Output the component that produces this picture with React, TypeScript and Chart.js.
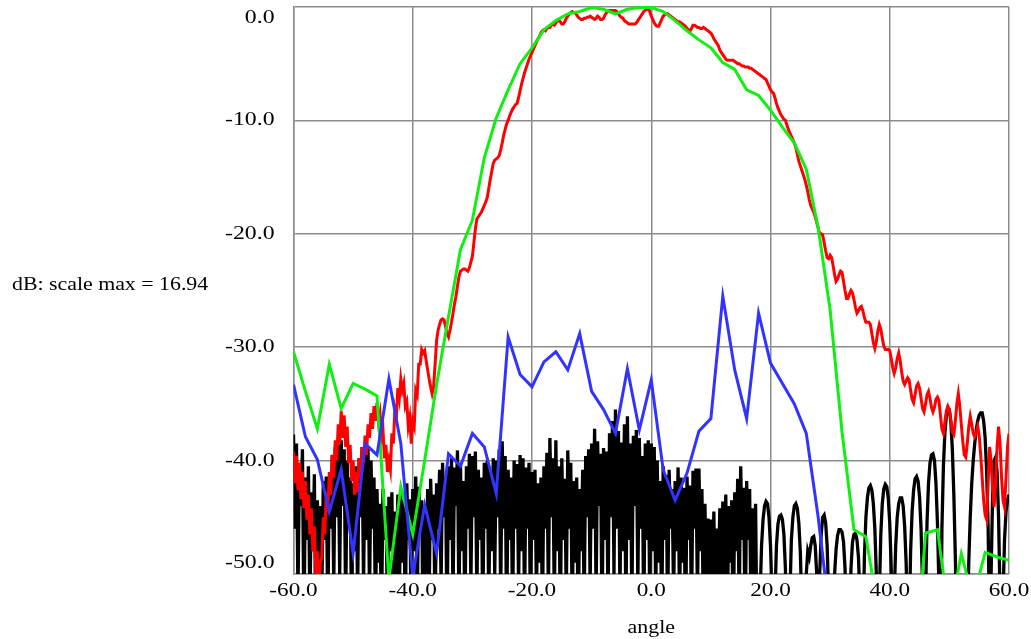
import React, { useEffect, useRef } from "react";
import { Chart, registerables } from "chart.js";

Chart.register(...registerables);

// ---------- data ----------
const xTickValues = [-60, -40, -20, 0, 20, 40, 60];
const yTickValues = [0, -10, -20, -30, -40, -50];
const yAxisLabel = "dB: scale max = 16.94";
const xAxisLabel = "angle";

// red: measured pattern, 0.25 deg spacing from -60 to 60
const redStart = -60;
const redStep = 0.25;
const redValues = [
  -39.2, -42.0, -39.6, -42.6, -40.2, -43.4, -41.0, -44.2,
  -41.8, -45.2, -43.0, -46.5, -44.2, -48.0, -45.8, -50.0,
  -48.0, -52.0, -49.0, -48.5, -45.0, -46.5, -42.8, -44.5,
  -41.0, -43.0, -39.5, -41.5, -38.2, -40.0, -36.8, -38.5,
  -35.6, -38.0, -36.0, -38.8, -37.0, -40.2, -38.6, -41.8,
  -40.0, -43.0, -41.0, -42.8, -39.8, -41.5, -38.8, -40.2,
  -37.8, -39.5, -36.8, -38.0, -35.8, -37.2, -35.2, -36.5,
  -34.9, -36.5, -35.8, -38.0, -37.2, -39.8, -38.6, -41.0,
  -40.0, -40.8, -37.6, -38.5, -35.5, -36.2, -33.6, -34.5,
  -32.8, -33.8, -33.2, -35.2, -34.8, -37.0, -36.2, -38.5,
  -36.5, -37.0, -33.8, -34.2, -31.5, -31.5, -30.2, -30.5,
  -30.3, -31.2, -32, -32.8, -33.5, -34.1, -33.5, -31.5,
  -29.4, -28.5, -28, -27.6, -27.5, -27.6, -28.2, -28.8,
  -29.1, -28.5, -27.8, -27, -26.2, -25.5, -24.6, -23.8,
  -23.3, -23.2, -23.1, -23.1, -23.2, -23.3, -23, -22.5,
  -22, -20.8, -19.6, -18.7, -18.5, -18.3, -18.1, -17.8,
  -17.5, -17.2, -16.8, -16, -15.2, -14.5, -13.8, -13.5,
  -13.4, -13.3, -13.1, -12.6, -12, -11.3, -10.8, -10.3,
  -10, -9.6, -9.3, -9.0, -8.8, -8.6, -8.5, -8.0,
  -7.4, -6.8, -6.3, -5.8, -5.4, -5.0, -4.6, -4.3,
  -4.0, -3.7, -3.4, -3.1, -2.8, -2.6, -2.3, -2.1,
  -2.0, -2.1, -1.9, -1.8, -1.8, -1.6, -1.5, -1.6,
  -1.4, -1.2, -1.2, -1.3, -1.5, -1.5, -1.3, -1.0,
  -0.8, -0.6, -0.5, -0.4, -0.5, -0.5, -0.7, -0.9,
  -1.0, -1.1, -1.1, -1.0, -1.0, -0.9, -0.9, -0.8,
  -0.9, -1.0, -1.1, -1.0, -0.8, -0.9, -1.1, -1.1,
  -1.0, -0.7, -0.5, -0.4, -0.3, -0.3, -0.3, -0.3,
  -0.3, -0.4, -0.6, -0.8, -0.9, -1.0, -1.2, -1.3,
  -1.4, -1.5, -1.5, -1.5, -1.5, -1.5, -1.4, -1.2,
  -1.0, -0.8, -0.6, -0.4, -0.3, -0.2, -0.1, -0.4,
  -0.8, -1.1, -1.4, -1.6, -1.7, -1.7, -1.4, -1.1,
  -0.8, -0.7, -0.6, -0.6, -0.7, -0.8, -0.9, -1.0,
  -1.1, -1.2, -1.3, -1.3, -1.4, -1.5, -1.6, -1.7,
  -1.9, -2.0, -2.1, -1.9, -1.6, -1.6, -1.7, -1.8,
  -1.8, -1.9, -1.9, -1.8, -1.9, -2.0, -2.1, -2.2,
  -2.3, -2.5, -2.8, -3.0, -3.2, -3.4, -3.8, -4.0,
  -4.2, -4.4, -4.6, -4.7, -4.7, -4.7, -4.7, -4.7,
  -4.8, -4.9, -5.0, -5.0, -5.1, -5.2, -5.2, -5.3,
  -5.3, -5.3, -5.4, -5.4, -5.5, -5.6, -5.7, -5.8,
  -5.9, -6.0, -6.1, -6.2, -6.3, -6.4, -6.7, -7.0,
  -7.3, -7.5, -7.6, -8.0, -8.5, -8.9, -9.2, -9.5,
  -9.7, -9.9, -10.0, -10.4, -10.8, -11.1, -11.4, -11.7,
  -12.0, -12.4, -13.0, -13.6, -14.0, -14.4, -14.8, -15.2,
  -15.7, -16.3, -17.0, -17.5, -17.8, -18.1, -18.5, -19.0,
  -19.5, -20.0, -20.0, -20.1, -20.8, -21.5, -22.1, -22.2,
  -21.9, -22.1, -22.8, -23.6, -24.2, -24.0, -23.6, -23.3,
  -23.4, -24.2, -25.0, -25.7, -25.7, -25.3, -25.0, -25.2,
  -25.8, -26.5, -27.0, -26.8, -26.5, -26.4, -26.8, -27.4,
  -27.8, -27.8, -27.8, -28.0, -28.8, -29.6, -30.1, -29.5,
  -28.6, -28.0, -28.4, -29.2, -29.9, -30.2, -30.2, -30.2,
  -30.3, -31.0, -31.8, -32.3, -31.8, -31.0, -30.5, -31.2,
  -32.2, -33.0, -33.3, -33.0, -32.7, -32.9, -33.8, -34.6,
  -34.9, -34.2, -33.4, -33.2, -33.6, -34.5, -35.4, -35.7,
  -35.0, -34.2, -33.9, -34.5, -35.3, -35.7, -35.3, -34.6,
  -34.4, -34.7, -36.0, -37.2, -37.6, -36.6, -35.6, -35.2,
  -35.5, -36.5, -37.5, -37.7, -36.5, -35.0, -34.1, -35.2,
  -36.8, -38.3, -39.5, -39.7, -38.5, -37.0, -36.1, -36.8,
  -37.6, -37.9, -37.5, -37.0, -37.8, -39.5, -41.5, -43.5,
  -44.8, -45.2, -42.0, -38.8, -40.0, -42.5, -44.1, -42.0,
  -38.8, -37.0, -38.5, -41.5, -43.5, -44.1, -41.5, -38.8,
  -37.6,
];

// black: measured pattern, 0.25 deg spacing from -60 to 60
const blackStart = -60;
const blackStep = 0.25;
const blackValues = [
  -37.7, -46, -38.5, -52, -40.2, -44, -39, -55,
  -41.5, -47, -40.5, -53, -42.8, -48, -41.2, -56,
  -43.5, -49, -44, -52, -41.8, -47, -41.4, -54,
  -41.4, -46, -39.5, -51, -38.8, -45, -38.6, -50,
  -38.2, -44, -39, -53, -40, -46, -41.5, -55,
  -42, -48, -40.5, -52, -39.8, -45, -38.8, -51,
  -39.5, -47, -38.8, -52, -40, -46, -41.5, -54,
  -42.5, -49, -43.8, -55, -42.5, -47, -44, -53,
  -43.2, -48, -42.8, -56, -44.5, -50, -43, -52,
  -42.6, -49, -43.5, -54, -42, -47, -43.4, -55,
  -42.5, -48, -41.4, -53, -42.3, -46, -43.5, -56,
  -44, -50, -42.5, -52, -41.6, -47, -43, -54,
  -42, -46, -40.8, -51, -40.2, -45, -41.5, -55,
  -40.5, -47, -39.8, -52, -40.6, -44, -39.1, -53,
  -40.2, -48, -41.8, -55, -40.5, -46, -39.4, -51,
  -39.6, -45, -39.2, -52, -40.8, -47, -41.5, -54,
  -40.2, -46, -40, -53, -41, -48, -39.8, -50,
  -40, -45, -39, -52, -38.3, -46, -39.6, -55,
  -40.8, -47, -41.5, -54, -40, -46, -40.3, -51,
  -39.5, -48, -39.8, -53, -40.6, -46, -40.2, -55,
  -41, -47, -40.8, -52, -42, -49, -41.5, -54,
  -40.5, -46, -39.3, -52, -38, -45, -39.8, -53,
  -38.2, -48, -40.5, -55, -39.8, -47, -41.6, -52,
  -39.1, -46, -40.2, -54, -41.8, -49, -41.5, -56,
  -42.5, -48, -40.8, -53, -39.6, -45, -39, -51,
  -38.5, -46, -37.2, -52, -38.3, -44, -39.4, -55,
  -38.9, -47, -39.2, -53, -37.6, -45, -36.5, -50,
  -35.5, -46, -37.4, -52, -38.4, -48, -36.8, -54,
  -36.1, -47, -38.5, -53, -37.8, -44, -37.3, -51,
  -38, -46, -39.6, -55, -38.5, -47, -38.2, -53,
  -38.5, -48, -38.8, -52, -40, -49, -41.8, -55,
  -40.5, -47, -41.3, -54, -40.8, -46, -42.5, -52,
  -41.8, -48, -40.6, -53, -41.5, -49, -42.4, -56,
  -41.4, -47, -42.2, -54, -40.9, -46, -40.7, -52,
  -40.7, -48, -42.5, -55, -43.8, -50, -45.1, -57,
  -45.2, -52, -44.5, -56, -46, -51, -44.2, -57,
  -43.6, -50, -43, -55, -44, -49, -43.5, -57,
  -42.8, -48, -41.6, -53, -40.5, -47, -42.4, -56,
  -41.8, -47, -42.5, -55, -44.2, -50, -43.8, -57,
  -58, -52, -47.5, -45.2, -44, -43.6, -43.8, -45,
  -47.5, -52, -60, -52, -47.5, -45.6, -44.9, -44.8,
  -45.2, -46.5, -49.5, -56, -60, -52, -47, -45,
  -44, -43.8, -44.2, -45.5, -48, -53, -60, -55,
  -50, -48, -48.5, -47.5, -46.8, -46.7, -47.5, -50,
  -56, -50, -46.5, -45, -44.8, -45.5, -47.5, -52,
  -60, -60, -55, -50, -47.8, -46.6, -46.1, -46.1,
  -46.3, -47.2, -49.5, -55, -60, -54, -49.5, -47.2,
  -46.5, -46.4, -47, -48.5, -52, -60, -55, -48.5,
  -45, -43.3, -42.4, -42.2, -42.6, -43.8, -46, -50,
  -58, -52, -46.5, -43.8, -42.5, -42.1, -42.3, -43.3,
  -45.5, -49.5, -57, -52, -47.5, -45, -43.8, -43.3,
  -43.3, -44, -45.8, -49, -55, -55, -48, -44.5,
  -42.6, -41.6, -41.4, -41.8, -43.2, -46, -51, -60,
  -52, -45.5, -42, -40.2, -39.5, -39.4, -40, -42,
  -45.5, -51, -60, -46, -40.5, -37.5, -36, -35.4,
  -35.5, -36.6, -39, -43, -48.5, -56, -60, -60,
  -60, -60, -60, -60, -55, -49, -45, -42,
  -40, -38.5, -37.3, -36.5, -36, -35.8, -35.8, -36.5,
  -38, -41, -46, -55, -50, -43, -40, -39.7,
  -41, -45, -52, -60, -52, -47, -44.5, -43.5,
  -43,
];

// green: 2 deg spacing from -60 to 60
const greenStart = -60;
const greenStep = 2;
const greenValues = [
  -30.4, -33.9, -37.2, -31.5, -35.4, -33.2, -33.7, -34.3, -50.5, -42.3,
  -46.5, -40.0, -33.3, -27.3, -21.4, -18.8, -13.3, -9.8, -7.3, -5.0,
  -3.6, -2.0, -1.2, -0.6, -0.4, -0.05, -0.2, -0.6, -0.2, -0.05,
  -0.05, -0.4, -1.2, -2.1, -2.9, -3.6, -4.9, -5.5, -7.3, -7.8,
  -9.1, -10.6, -12.0, -14.3, -19.5, -26.7, -37.5, -46.1, -46.7, -53.0,
  -60.0, -60.0, -60.0, -46.4, -46.1, -53.9, -48.2, -52.2, -48.1, -48.5,
  -48.8,
];

// blue: 2 deg spacing from -60 to 30
const blueStart = -60;
const blueStep = 2;
const blueValues = [
  -33.3, -37.9, -39.9, -44.5, -40.8, -48.2, -38.5, -39.5, -32.8, -38.5,
  -50.2, -43.9, -48.2, -39.4, -40.5, -37.6, -38.8, -42.9, -29.1, -32.4,
  -33.5, -31.3, -30.4, -32.0, -28.8, -33.9, -35.5, -37.6, -31.9, -37.3,
  -32.9, -40.8, -43.5, -41.1, -37.4, -36.3, -25.5, -32.0, -36.3, -27.0,
  -31.4, -33.2, -35.0, -37.6, -45.0, -54.0,
];

const toPoints = (start: number, step: number, values: number[]) =>
  values.map((v, i) => ({ x: start + i * step, y: v }));

const FONT = '"Liberation Serif", "Times New Roman", serif';

function stretchedText(ctx: any, text: string, x: number, y: number, align: string, sx: number) {
  ctx.save();
  ctx.translate(x, y);
  ctx.scale(sx, 1);
  ctx.textAlign = align;
  ctx.textBaseline = "middle";
  ctx.fillText(text, 0, 0);
  ctx.restore();
}

const textPlugin = {
  id: "customText",
  afterDraw(chart: any) {
    const { ctx, chartArea } = chart;
    const yScale = chart.scales.y;
    const xScale = chart.scales.x;
    ctx.save();
    ctx.fillStyle = "#000";
    ctx.font = `19px ${FONT}`;
    yTickValues.forEach((v) => {
      let py = yScale.getPixelForValue(v);
      py = Math.min(Math.max(py, chartArea.top + 11), chartArea.bottom - 11);
      stretchedText(ctx, v.toFixed(1), chartArea.left - 19, py, "right", 1.25);
    });
    xTickValues.forEach((v) => {
      const px = xScale.getPixelForValue(v);
      stretchedText(ctx, v.toFixed(1), px, 591, "center", 1.22);
    });
    stretchedText(ctx, yAxisLabel, 12, 285, "left", 1.15);
    stretchedText(ctx, xAxisLabel, (chartArea.left + chartArea.right) / 2, 628, "center", 1.15);
    ctx.restore();
  },
};

export default function App() {
  const canvasRef = useRef<HTMLCanvasElement | null>(null);

  useEffect(() => {
    const canvas = canvasRef.current;
    if (!canvas) return;
    const mk = (label: string, color: string, pts: any[], order: number, width: number) => ({
      label,
      data: pts,
      borderColor: color,
      backgroundColor: color,
      borderWidth: width,
      pointRadius: 0,
      tension: 0,
      fill: false,
      order,
      clip: { left: 0, right: 0, top: 4, bottom: 0 },
    });
    const chart = new Chart(canvas, {
      type: "line",
      data: {
        datasets: [
          mk("blue", "#3333ff", toPoints(blueStart, blueStep, blueValues), 1, 3),
          mk("green", "#11ee11", toPoints(greenStart, greenStep, greenValues), 2, 3),
          mk("red", "#ff0000", toPoints(redStart, redStep, redValues), 3, 3),
          mk("black", "#000000", toPoints(blackStart, blackStep, blackValues), 4, 3.3),
        ],
      },
      options: {
        animation: false,
        responsive: false,
        maintainAspectRatio: false,
        parsing: false as any,
        normalized: true,
        layout: { padding: { left: 0, top: 7, right: 22, bottom: 0 } },
        plugins: {
          legend: { display: false },
          tooltip: { enabled: false },
          title: { display: false },
        },
        scales: {
          x: {
            type: "linear",
            min: -60,
            max: 60,
            ticks: { stepSize: 20, display: false },
            grid: { color: "#8c8c8c", lineWidth: 1.5, drawTicks: false },
            border: { color: "#8c8c8c", width: 1.5 },
            afterFit: (s: any) => {
              s.height = 65;
              s.paddingLeft = 0;
              s.paddingRight = 0;
            },
          },
          y: {
            type: "linear",
            min: -50,
            max: 0,
            ticks: { stepSize: 10, display: false },
            grid: { color: "#8c8c8c", lineWidth: 1.5, drawTicks: false },
            border: { color: "#8c8c8c", width: 1.5 },
            afterFit: (s: any) => {
              s.width = 293.5;
              s.paddingTop = 0;
              s.paddingBottom = 0;
            },
          },
        },
      },
      plugins: [textPlugin],
    });
    return () => chart.destroy();
  }, []);

  return (
    <div style={{ position: "absolute", left: 0, top: 0, width: 1031, height: 639, background: "#fff" }}>
      <canvas ref={canvasRef} width={1031} height={639} style={{ width: 1031, height: 639, display: "block" }} />
    </div>
  );
}
